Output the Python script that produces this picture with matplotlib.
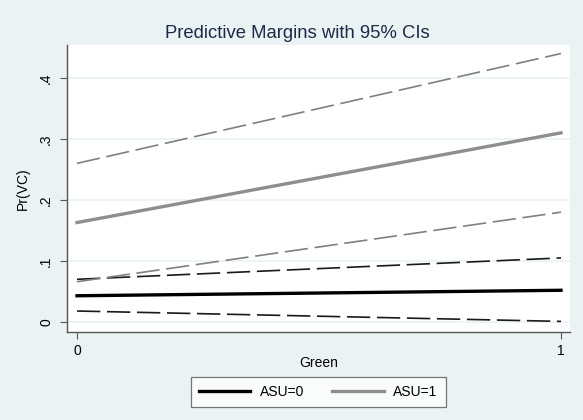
import matplotlib
matplotlib.use('Agg')
import matplotlib.pyplot as plt

# valeurs
green = [0, 1]
asu0 = [0.043, 0.052]
asu0_hi = [0.070, 0.105]
asu0_lo = [0.018, 0.001]
asu1 = [0.163, 0.310]
asu1_hi = [0.260, 0.440]
asu1_lo = [0.066, 0.180]
yticks = [0, 0.1, 0.2, 0.3, 0.4]
ylabels = ["0", ".1", ".2", ".3", ".4"]

plt.rcParams['font.family'] = ['Liberation Sans', 'DejaVu Sans']
bg = '#eaf2f3'
fig = plt.figure(figsize=(5.83, 4.2), dpi=100, facecolor=bg)
ax = fig.add_axes([0.1149, 0.2095, 0.8628, 0.6834])
ax.set_facecolor('white')

ax.grid(axis='y', color=bg, linewidth=1.2)
ax.set_axisbelow(True)

ax.plot(green, asu0_hi, color='#1a1a1a', lw=1.2, dashes=(14, 4))
ax.plot(green, asu0_lo, color='#1a1a1a', lw=1.2, dashes=(14, 4))
ax.plot(green, asu1_hi, color='#808080', lw=1.2, dashes=(14, 4))
ax.plot(green, asu1_lo, color='#808080', lw=1.2, dashes=(14, 4))
l0, = ax.plot(green, asu0, color='black', lw=2.4, label='ASU=0')
l1, = ax.plot(green, asu1, color='#8e8e8e', lw=2.4, label='ASU=1')

ax.set_xlim(-0.0207, 1.0186)
ax.set_ylim(-0.0164, 0.454)
ax.set_xticks([0, 1])
ax.set_xticklabels(["0", "1"])
ax.set_yticks(yticks)
ax.set_yticklabels(ylabels, rotation=90, va='center')

for s in ['top', 'right']:
    ax.spines[s].set_visible(False)
for s in ['left', 'bottom']:
    ax.spines[s].set_color('#555555')
    ax.spines[s].set_linewidth(1.0)
ax.tick_params(axis='both', colors='#555555', labelcolor='black', labelsize=10, length=5)
ax.tick_params(axis='y', pad=5)

ax.set_xlabel("Green", fontsize=10, labelpad=-1)
ax.set_ylabel("Pr(VC)", fontsize=10, labelpad=7)
fig.text(0.5095, 0.921, "Predictive Margins with 95% CIs", ha='center', va='center',
         fontsize=13.3, color='#1c2a48')

leg = fig.legend(handles=[l0, l1], loc='center', bbox_to_anchor=(0.546, 0.067), ncol=2,
                 fontsize=10, frameon=True, fancybox=False, handlelength=3.7, columnspacing=2.0,
                 borderpad=0.6, handletextpad=0.7)
leg.get_frame().set_edgecolor('#555555')
leg.get_frame().set_linewidth(0.9)

plt.savefig("out.png", dpi=100, facecolor=bg)
